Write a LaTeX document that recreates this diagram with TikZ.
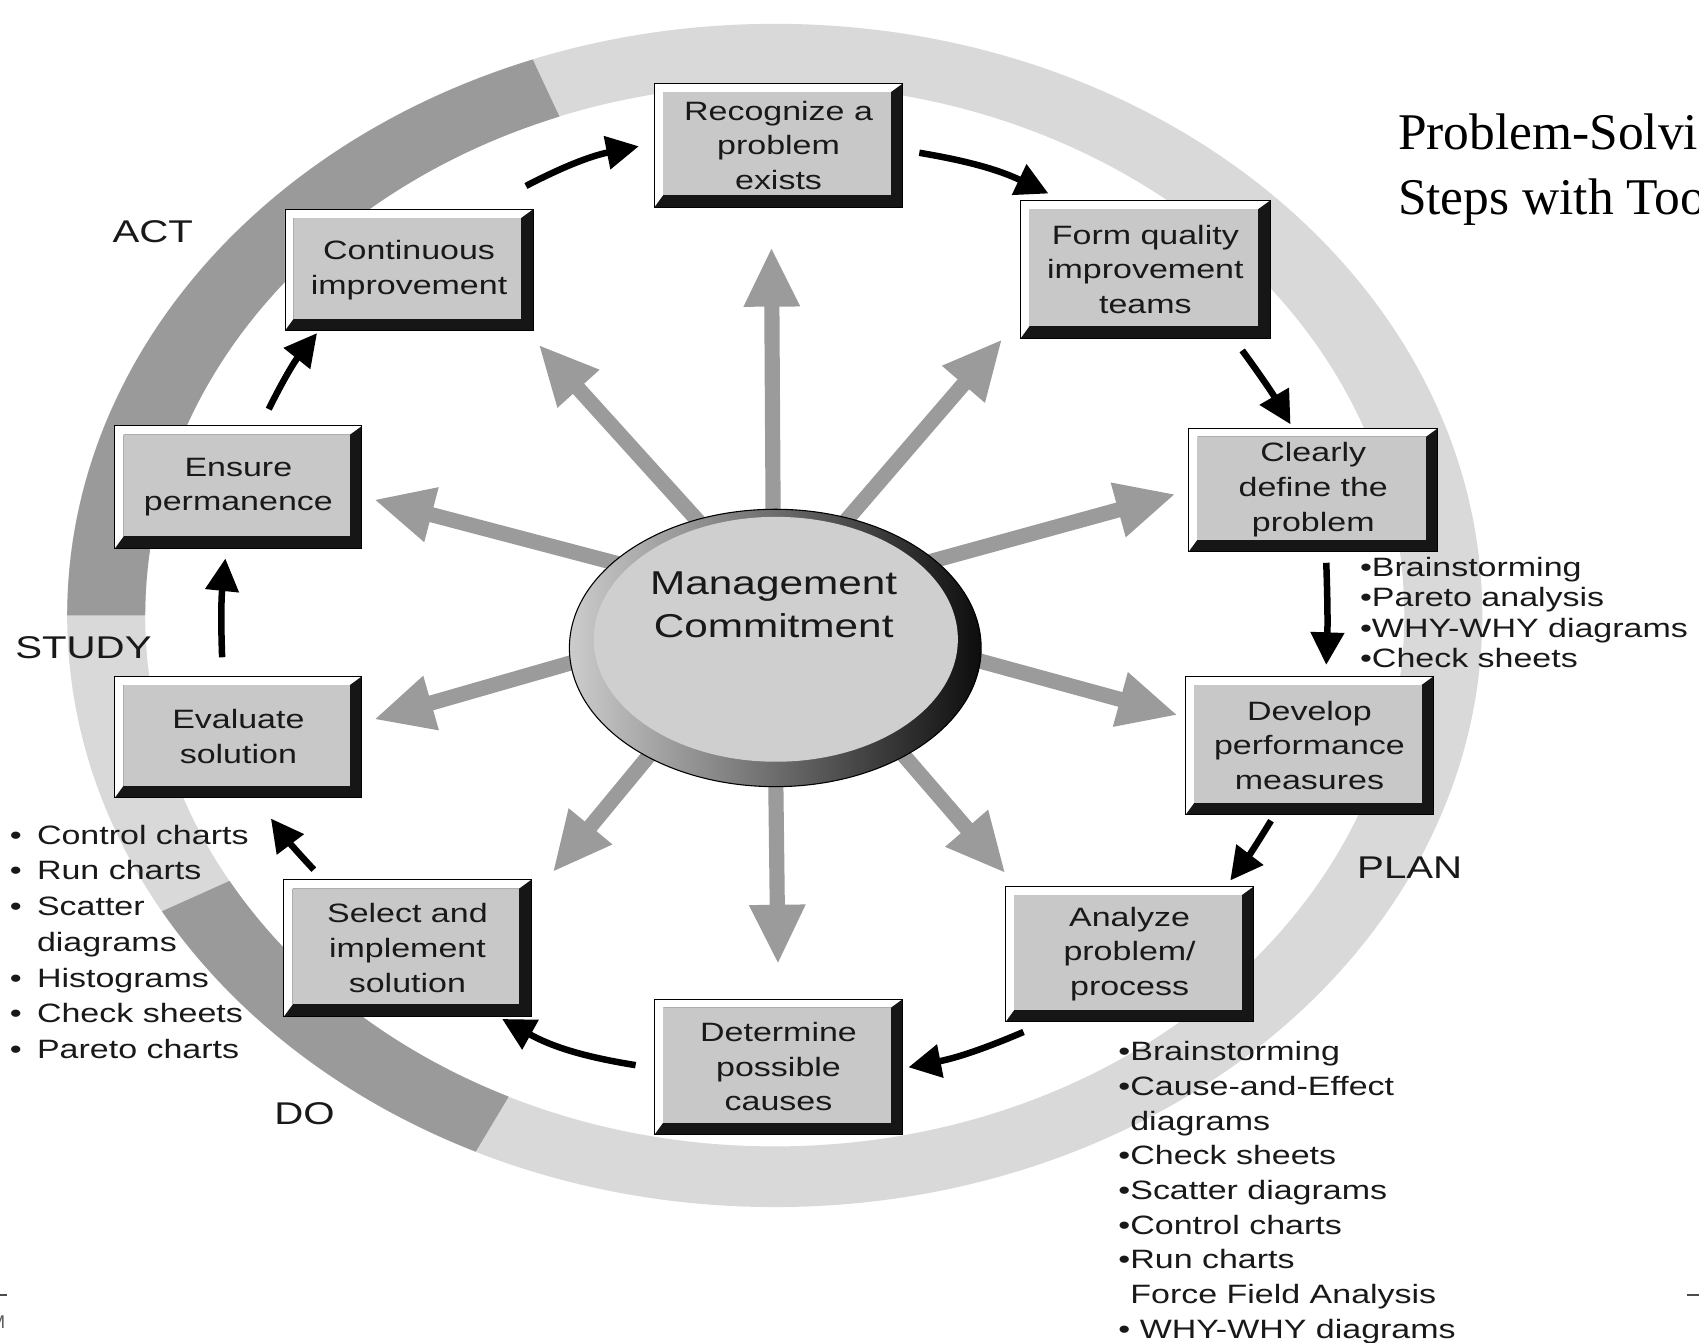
\documentclass[tikz,border=0pt]{standalone}
\usepackage{fontspec}
\usetikzlibrary{arrows.meta}

% Slightly widened sans for all diagram text, serif for the heading
\newfontfamily\figfont[FakeStretch=1.28]{Liberation Sans}
\newfontfamily\plainsans{Liberation Sans}
\newfontfamily\titlefont{Liberation Serif}

\definecolor{facegray}{RGB}{200,200,200}
\definecolor{bevdark}{RGB}{22,22,22}
\definecolor{ringdark}{RGB}{154,154,154}
\definecolor{ringlight}{RGB}{217,217,217}
\definecolor{spokegray}{RGB}{155,155,155}
\definecolor{discface}{RGB}{207,207,207}
\definecolor{inkgray}{RGB}{25,25,25}

\pgfdeclarelayer{ringlayer}
\pgfdeclarelayer{spokes}
\pgfsetlayers{ringlayer,spokes,main}

% bullet with a fixed gap before the item text
\newcommand{\wideitem}{\makebox[25pt][l]{•}}

\tikzset{
  % bevelled step box: white top/left edge, dark bottom/right edge, grey face
  stepbox/.style={draw=black, line width=0.8pt, align=center, text=inkgray,
    font=\figfont\fontsize{24.5}{32}\selectfont,
    path picture={
      \fill[bevdark] (path picture bounding box.south west) rectangle (path picture bounding box.north east);
      \fill[white] (path picture bounding box.south west)
        -- (path picture bounding box.north west)
        -- (path picture bounding box.north east)
        -- ([shift={(-11pt,-8pt)}]path picture bounding box.north east)
        -- ([shift={(8pt,-8pt)}]path picture bounding box.north west)
        -- ([shift={(8pt,11pt)}]path picture bounding box.south west)
        -- cycle;
      \fill[facegray] ([shift={(8pt,11pt)}]path picture bounding box.south west)
        rectangle ([shift={(-11pt,-8pt)}]path picture bounding box.north east);
    }},
  spoke/.style={line width=14pt, draw=spokegray, -{Triangle[length=55pt,width=48pt]}},
  cycarrow/.style={line width=6pt, draw=black, -{Triangle[length=30pt,width=30pt]}},
  phase/.style={inner sep=0pt, text=inkgray, font=\figfont\fontsize{29}{34}\selectfont},
  tools/.style={align=left, inner sep=0pt, anchor=north west, text=inkgray},
}

\begin{document}
\begin{tikzpicture}[x=1pt, y=-1pt]
\useasboundingbox (0,0) rectangle (1568,1239);
\clip (0,0) rectangle (1568,1239);

% ---- PDSA ring --------------------------------------------------------
\begin{pgfonlayer}{ringlayer}
  \fill[white] (0,0) rectangle (1568,1239);
  \fill[ringlight, even odd rule]
    (715,568) ellipse [x radius=653pt, y radius=546pt]
    (715,568) ellipse [x radius=581pt, y radius=490pt];
  % ACT segment
  \fill[ringdark]
    plot[domain=110:180, samples=60] ({715+653*cos(\x)},{568-546*sin(\x)})
    -- plot[domain=180:110, samples=60] ({715+581*cos(\x)},{568-490*sin(\x)}) -- cycle;
  % DO segment
  \fill[ringdark]
    plot[domain=210:245, samples=40] ({715+653*cos(\x)},{568-546*sin(\x)})
    -- plot[domain=245:210, samples=40] ({715+581*cos(\x)},{568-490*sin(\x)}) -- cycle;
\end{pgfonlayer}

% ---- central disc -----------------------------------------------------
\shade[left color=gray!40, right color=black!95, draw=black, line width=1pt]
  (715.5,598) ellipse [x radius=190pt, y radius=128pt];
\fill[discface] (716,590) ellipse [x radius=168pt, y radius=113pt];
\node[align=center, inner sep=0pt, text=inkgray,
      font=\figfont\fontsize{30.5}{40}\selectfont] (mgmt) at (714,558)
  {Management\\Commitment};

% ---- step boxes -------------------------------------------------------
\node[stepbox, minimum width=229pt, minimum height=114pt] (recog)   at (718.5,134)  {Recognize a\\problem\\exists};
\node[stepbox, minimum width=230pt, minimum height=127pt] (form)    at (1057,248.5) {Form quality\\improvement\\teams};
\node[stepbox, minimum width=230pt, minimum height=114pt] (clear)   at (1212,452)   {Clearly\\define the\\problem};
\node[stepbox, minimum width=229pt, minimum height=128pt] (devel)   at (1208.5,688) {Develop\\performance\\measures};
\node[stepbox, minimum width=229pt, minimum height=125pt] (analyze) at (1042.5,880.5) {Analyze\\problem/\\process};
\node[stepbox, minimum width=229pt, minimum height=125pt] (determ)  at (718.5,984.5) {Determine\\possible\\causes};
\node[stepbox, minimum width=228pt, minimum height=126pt] (select)  at (376,875)    {Select and\\implement\\solution};
\node[stepbox, minimum width=228pt, minimum height=112pt] (evalu)   at (220,680)    {Evaluate\\solution};
\node[stepbox, minimum width=228pt, minimum height=113pt] (ensure)  at (220,449.5)  {Ensure\\permanence};
\node[stepbox, minimum width=229pt, minimum height=112pt] (contin)  at (377.5,249)  {Continuous\\improvement};

% ---- spokes from the commitment disc ----------------------------------
\coordinate (tipA) at (712,228);
\coordinate (tipB) at (925,313);
\coordinate (tipC) at (1085,456);
\coordinate (tipD) at (1087,660);
\coordinate (tipE) at (928,806);
\coordinate (tipF) at (718,890);
\coordinate (tipG) at (510,805);
\coordinate (tipH) at (345,664);
\coordinate (tipI) at (345,461);
\coordinate (tipJ) at (497,318);
\begin{pgfonlayer}{spokes}
  \foreach \t in {tipA,tipB,tipC,tipD,tipE,tipF,tipG,tipH,tipI,tipJ}
    \draw[spoke] (mgmt.center) -- (\t);
\end{pgfonlayer}

% ---- cycle arrows -----------------------------------------------------
\draw[cycarrow] ([shift={(-7,-21)}]contin.north east) to[bend left=8] ([shift={(-14,1)}]recog.west);
\draw[cycarrow] ([shift={(15,7)}]recog.east) to[bend left=8] ([shift={(26,-6)}]form.north west);
\draw[cycarrow] ([shift={(-26,11)}]form.south east) to[bend left=3] ([shift={(-21,-3)}]clear.north);
\draw[cycarrow] ([shift={(12,10)}]clear.south) to[bend left=2] ([shift={(15.5,-10)}]devel.north);
\draw[cycarrow] ([shift={(-35.5,5)}]devel.south) to[bend left=3] ([shift={(-22,-5)}]analyze.north east);
\draw[cycarrow] ([shift={(17,9)}]analyze.south west) to[bend left=6] ([shift={(5,0.5)}]determ.east);
\draw[cycarrow] ([shift={(-17,-1.5)}]determ.west) to[bend left=10] ([shift={(-27,2)}]select.south east);
\draw[cycarrow] ([shift={(28,-9)}]select.north west) to[bend left=3] ([shift={(30,19)}]evalu.south);
\draw[cycarrow] ([shift={(-15,-17)}]evalu.north) to[bend left=4] ([shift={(-12,9)}]ensure.south);
\draw[cycarrow] ([shift={(28,-15)}]ensure.north) to[bend left=6] ([shift={(30,2)}]contin.south west);

% ---- phase labels -----------------------------------------------------
\node[phase] (act)   at (141,214)  {ACT};
\node[phase] (study) at (77,598)   {STUDY};
\node[phase] (plan)  at (1301,801) {PLAN};
\node[phase] (do)    at (281,1028) {DO};

% ---- tool lists -------------------------------------------------------
\node[tools, font=\figfont\fontsize{24.5}{28}\selectfont] (toolsdefine) at (1255,514)
  {•Brainstorming\\•Pareto analysis\\•WHY-WHY diagrams\\•Check sheets};
\node[tools, font=\figfont\fontsize{24.5}{33}\selectfont] (toolsstudy) at (9,761)
  {\wideitem Control charts\\\wideitem Run charts\\\wideitem Scatter\\\hspace*{25pt}diagrams\\\wideitem Histograms\\\wideitem Check sheets\\\wideitem Pareto charts};
\node[tools, font=\figfont\fontsize{24.5}{32}\selectfont] (toolsanalyze) at (1032,961)
  {•Brainstorming\\•Cause-and-Effect\\\phantom{•}diagrams\\•Check sheets\\•Scatter diagrams\\•Control charts\\•Run charts\\\phantom{•}Force Field Analysis\\• WHY-WHY diagrams};

% ---- heading ----------------------------------------------------------
\node[anchor=base west, inner sep=0pt, font=\titlefont\fontsize{47.5}{56}\selectfont] (head1) at (1290,138) {Problem-Solving};
\node[anchor=base west, inner sep=0pt, font=\titlefont\fontsize{47.5}{56}\selectfont] (head2) at (1290,198) {Steps with Tools};

% ---- footer fragments at the edges ------------------------------------
\draw[line width=1.2pt, black!70] (0,1195) -- (6,1195);
\draw[line width=1.2pt, black!70] (1557,1195) -- (1568,1195);
\node[anchor=east, inner sep=0pt, text=black!65, font=\plainsans\fontsize{17}{20}\selectfont] (foot) at (5,1220) {M};
\end{tikzpicture}
\end{document}
